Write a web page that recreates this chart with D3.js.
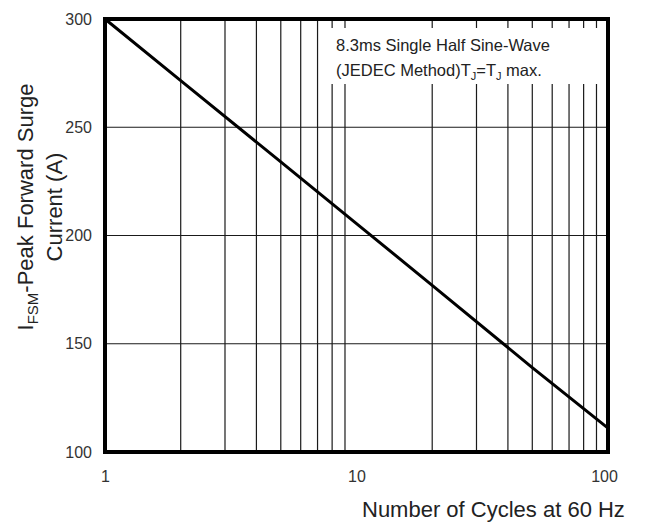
<!DOCTYPE html>
<html>
<head>
<meta charset="utf-8">
<script src="https://cdn.jsdelivr.net/npm/d3@7"></script>
<style>
  html, body { margin: 0; padding: 0; background: #fff; }
  svg { display: block; font-family: "Liberation Sans", Arial, sans-serif; }
</style>
</head>
<body>
<svg id="chart" width="645" height="523"></svg>
<script>
// ---- data ----
const cycles = [1, 2, 5, 10, 20, 50, 100];
const surgeCurrent = [300, 271.5, 234, 205.5, 177, 139, 111];
const xTickValues = [1, 10, 100];
const xTickLabels = ["1", "10", "100"];
const yTickValues = [100, 150, 200, 250, 300];
const yTickLabels = ["100", "150", "200", "250", "300"];
const xGridValues = [2, 3, 4, 5, 6, 7, 8, 9, 20, 30, 40, 50, 60, 70, 80, 90];
const yGridValues = [150, 200, 250];

const svg = d3.select("#chart");
const pL = 105, pR = 608, pT = 19, pB = 452;

const x = d3.scaleLog().domain([1, 100]).range([pL, pR]);
const y = d3.scaleLinear().domain([100, 300]).range([pB, pT]);

// grid lines
const grid = svg.append("g").attr("stroke", "#1a1a1a").attr("stroke-width", 1.2);
grid.selectAll("line.v").data(xGridValues).join("line").attr("class", "v")
  .attr("x1", d => x(d)).attr("x2", d => x(d))
  .attr("y1", pT).attr("y2", pB);
grid.selectAll("line.h").data(yGridValues).join("line").attr("class", "h")
  .attr("x1", pL).attr("x2", pR)
  .attr("y1", d => y(d)).attr("y2", d => y(d));

// annotation box (white background hiding grid)
svg.append("rect")
  .attr("x", 326).attr("y", 28).attr("width", 279).attr("height", 56)
  .attr("fill", "#fff");

const ann = svg.append("g").attr("font-size", 16.5).attr("fill", "#222");
ann.append("text").attr("x", 336).attr("y", 51).text("8.3ms Single Half Sine-Wave");
const t2 = ann.append("text").attr("x", 336).attr("y", 76);
t2.append("tspan").text("(JEDEC Method)T");
t2.append("tspan").attr("font-size", 11).attr("dy", 4).text("J");
t2.append("tspan").attr("dy", -4).text("=T");
t2.append("tspan").attr("font-size", 11).attr("dy", 4).text("J");
t2.append("tspan").attr("dy", -4).text(" max.");

// data line
const line = d3.line().x((d, i) => x(cycles[i])).y(d => y(d));
svg.append("path")
  .datum(surgeCurrent)
  .attr("fill", "none")
  .attr("stroke", "#000")
  .attr("stroke-width", 3)
  .attr("d", line);

// frame
svg.append("rect")
  .attr("x", pL).attr("y", pT)
  .attr("width", pR - pL).attr("height", pB - pT)
  .attr("fill", "none").attr("stroke", "#000").attr("stroke-width", 4);

// axes (labels only)
const xAxis = d3.axisBottom(x).tickValues(xTickValues)
  .tickFormat((d, i) => xTickLabels[i]).tickSize(0).tickPadding(0);
const gx = svg.append("g").attr("transform", `translate(0,${pB})`).call(xAxis);
gx.select(".domain").remove();
gx.selectAll("text").attr("font-size", 16).attr("fill", "#333")
  .attr("font-family", "Liberation Sans, Arial, sans-serif")
  .attr("dy", null).attr("y", 30);
gx.selectAll(".tick").filter(d => d === 100).select("text").attr("dx", -4);

const yAxis = d3.axisLeft(y).tickValues(yTickValues)
  .tickFormat((d, i) => yTickLabels[i]).tickSize(0).tickPadding(13);
const gy = svg.append("g").attr("transform", `translate(${pL},0)`).call(yAxis);
gy.select(".domain").remove();
gy.selectAll("text").attr("font-size", 16).attr("fill", "#333")
  .attr("font-family", "Liberation Sans, Arial, sans-serif");

// axis titles
svg.append("text")
  .attr("x", 362).attr("y", 517)
  .attr("font-size", 22).attr("fill", "#222")
  .text("Number of Cycles at 60 Hz");

const yt = svg.append("text")
  .attr("transform", "translate(33,207) rotate(-90)")
  .attr("text-anchor", "middle")
  .attr("font-size", 22).attr("fill", "#222");
yt.append("tspan").text("I");
yt.append("tspan").attr("font-size", 15).attr("dy", 5).text("FSM");
yt.append("tspan").attr("dy", -5).text("-Peak Forward Surge");

svg.append("text")
  .attr("transform", "translate(62,207) rotate(-90)")
  .attr("text-anchor", "middle")
  .attr("font-size", 22).attr("fill", "#222")
  .text("Current (A)");
</script>
</body>
</html>
